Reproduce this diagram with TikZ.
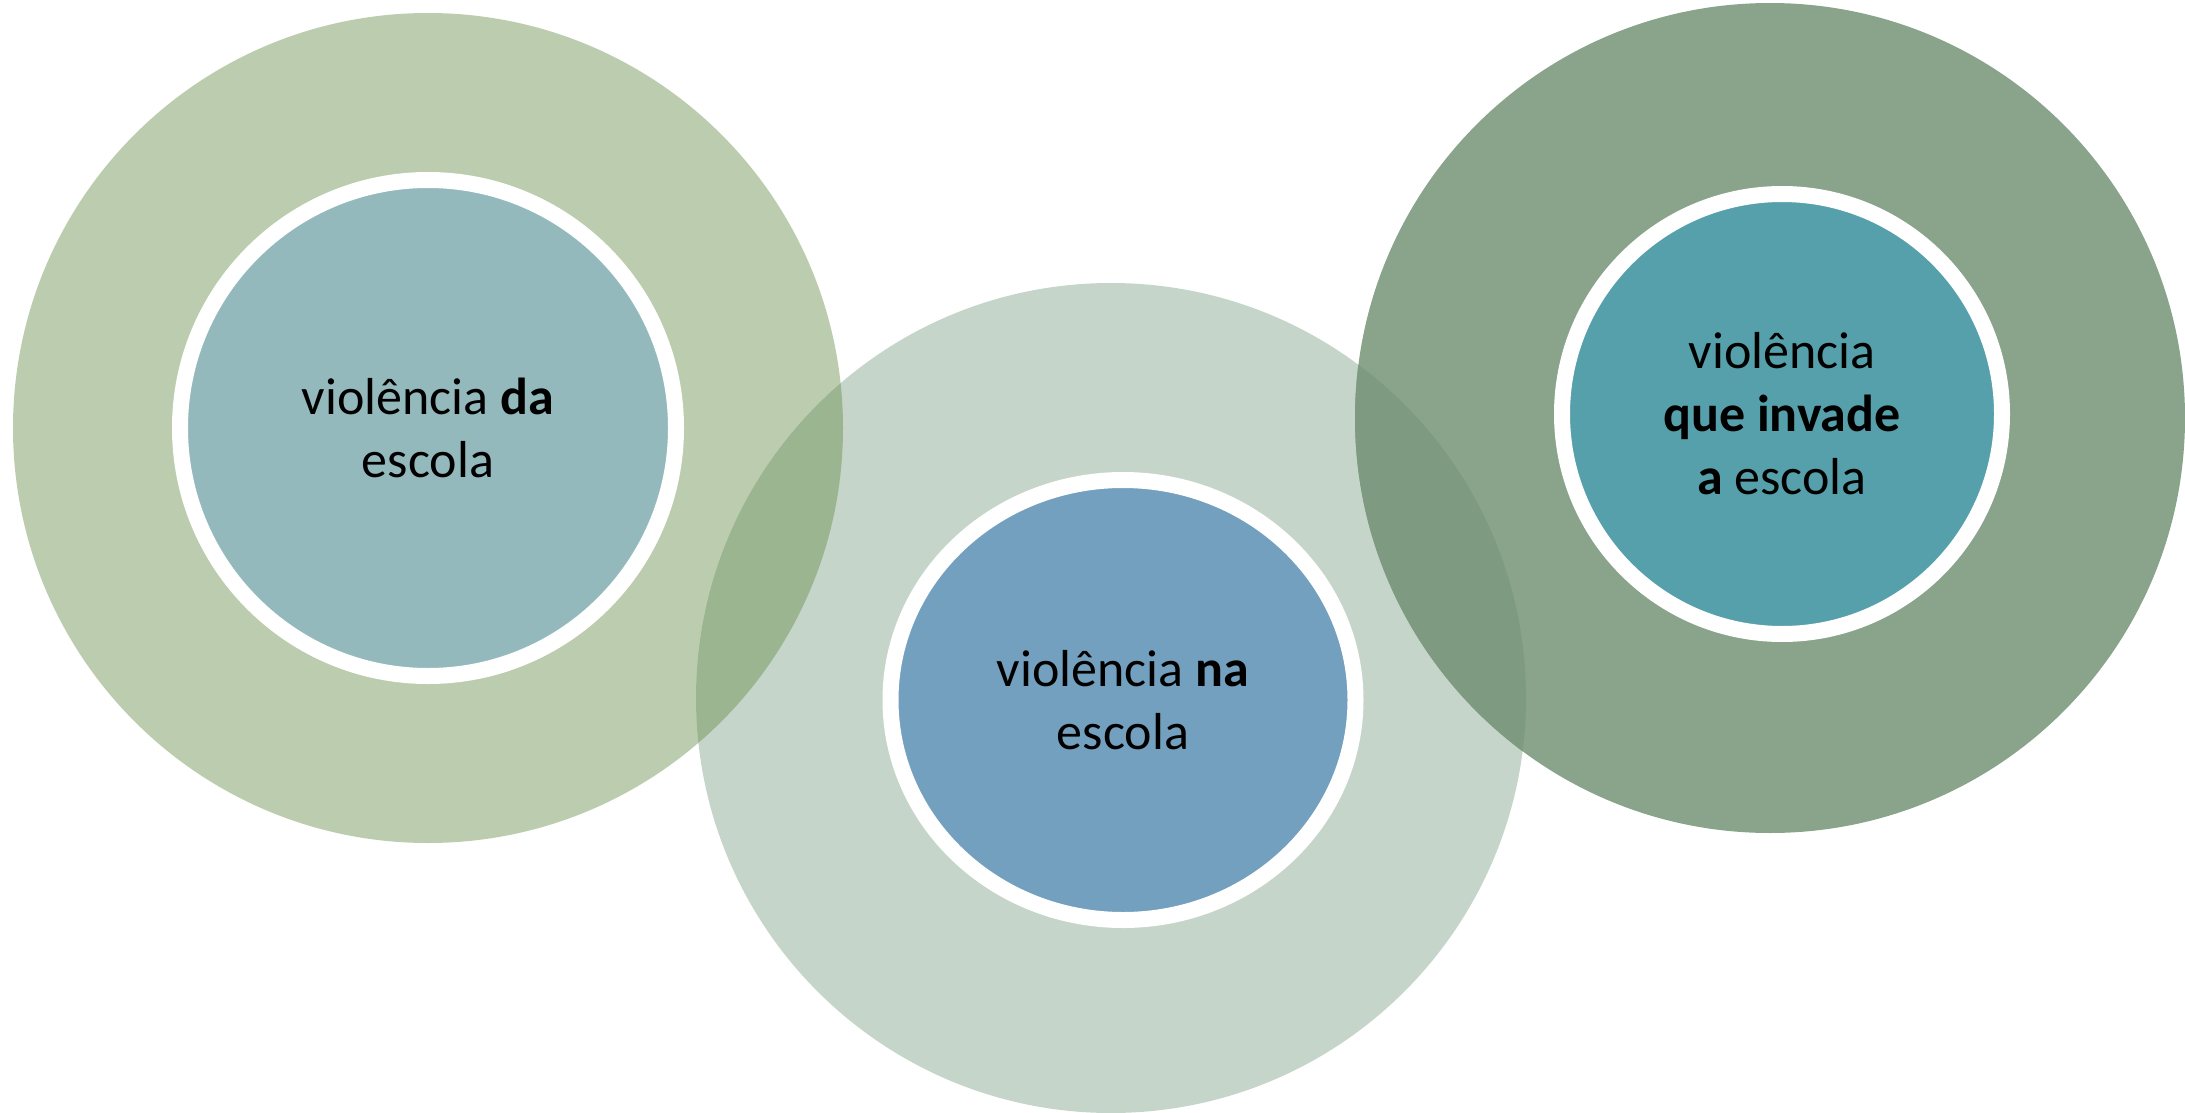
\documentclass[tikz,border=0pt]{standalone}
\usepackage{fontspec}
\setmainfont{Carlito}
\usetikzlibrary{shapes.geometric}

\definecolor{sageLight}{HTML}{BCCDAF}
\definecolor{sagePale}{HTML}{C6D5C9}
\definecolor{sageDark}{HTML}{89A48B}
\definecolor{overlapLeft}{HTML}{9BB590}
\definecolor{overlapRight}{HTML}{7E9A80}
\definecolor{fillDa}{HTML}{94B9BC}
\definecolor{fillNa}{HTML}{73A0BE}
\definecolor{fillQue}{HTML}{56A0AB}

\tikzset{
  bigdisc/.style={circle, minimum size=830pt, inner sep=0pt},
  innerdisc/.style={ellipse, draw=white, line width=16pt, inner sep=0pt,
    align=center, text=black, font=\fontsize{52}{63}\selectfont}
}

\begin{document}
\begin{tikzpicture}[x=1pt, y=-1pt]
  \useasboundingbox (0,0) rectangle (2185,1113);

  % Draw the three big discs
  \node[bigdisc, fill=sageLight] (bigDa) at (428,428) {};
  \node[bigdisc, fill=sagePale] (bigNa) at (1111,698) {};
  \node[bigdisc, fill=sageDark] (bigQue) at (1770,418) {};

  % Darker where two discs overlap
  \begin{scope}
    \clip (bigDa.center) circle (415pt);
    \fill[overlapLeft] (bigNa.center) circle (415pt);
  \end{scope}
  \begin{scope}
    \clip (bigNa.center) circle (415pt);
    \fill[overlapRight] (bigQue.center) circle (415pt);
  \end{scope}

  % Draw the inner discs with the labels
  \node[innerdisc, fill=fillDa, minimum size=496pt] (violDa) at (bigDa.center)
    {violência \textbf{da}\\escola};
  \node[innerdisc, fill=fillNa, minimum width=465pt, minimum height=440pt] (violNa) at (1123,700)
    {violência \textbf{na}\\escola};
  \node[innerdisc, fill=fillQue, minimum size=440pt] (violQue) at (1782,414)
    {violência\\\textbf{que invade}\\\textbf{a} escola};

\end{tikzpicture}
\end{document}
